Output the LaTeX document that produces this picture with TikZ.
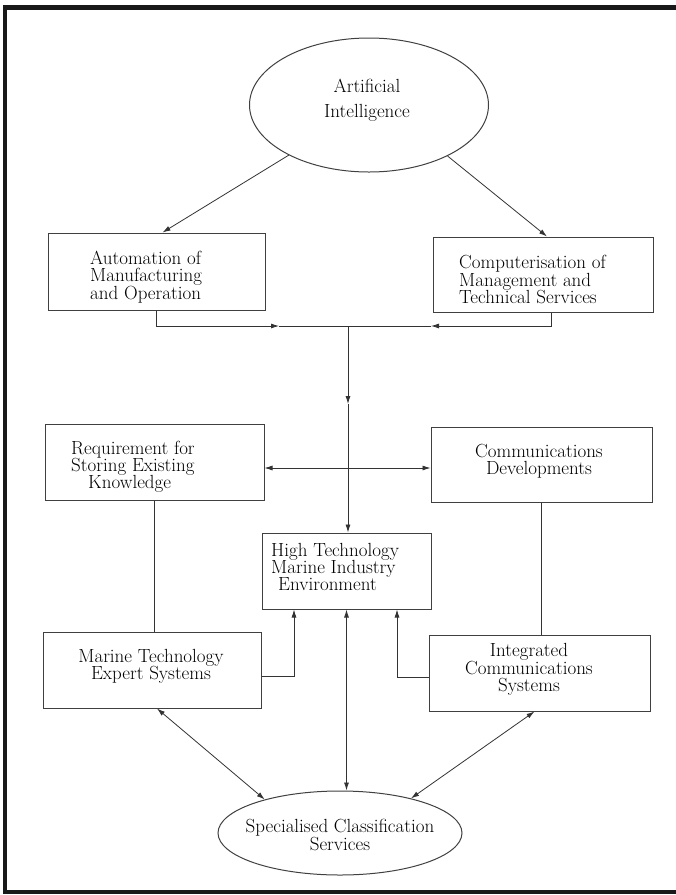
\documentclass[tikz,border=0pt]{standalone}
\usetikzlibrary{arrows.meta,shapes.geometric,calc}
\begin{document}
\begin{tikzpicture}[x=1pt,y=-1pt,
  box/.style={draw=black!75,line width=1pt,rectangle,inner sep=0pt},
  oval/.style={draw=black!75,line width=1pt,ellipse,inner sep=0pt},
  txt/.style={inner sep=0pt,text=black,font=\fontsize{19}{17.2}\selectfont},
  conn/.style={draw=black!80,line width=0.8pt},
  arr/.style={-{Latex[length=8pt,width=5pt]}},
  both/.style={{Latex[length=8pt,width=5pt]}-{Latex[length=8pt,width=5pt]}}
]
\useasboundingbox (0,0) rectangle (676,895);
\fill[white] (0,0) rectangle (676,895);

% outer frame
\draw[line width=4.5pt,black!90] (676,7.5) -- (5,7.5) -- (5,892) -- (676,892);

% shapes
\node[oval,minimum width=239pt,minimum height=134pt] (ai) at (369,105) {};
\node[box,minimum width=217pt,minimum height=77pt] (auto) at (156.5,271.5) {};
\node[box,minimum width=220pt,minimum height=75pt] (comp) at (543,274.5) {};
\node[box,minimum width=219pt,minimum height=76pt] (req) at (154.5,462) {};
\node[box,minimum width=221pt,minimum height=75pt] (comm) at (541.5,464.5) {};
\node[box,minimum width=169pt,minimum height=76pt] (htm) at (346.5,571) {};
\node[box,minimum width=218pt,minimum height=76pt] (mar) at (152,670) {};
\node[box,minimum width=221pt,minimum height=76pt] (integ) at (539.5,673) {};
\node[oval,minimum width=244pt,minimum height=84pt] (spec) at (340,833) {};

% texts
\node[txt,align=center,font=\fontsize{19}{25}\selectfont] (ait) at (367,100.5) {Artificial\\Intelligence};
\node[txt,align=left,anchor=west] (autot) at (90,277) {Automation of\\Manufacturing\\and Operation};
\node[txt,align=left,anchor=west] (compt) at (459,279.5) {Computerisation of\\Management and\\Technical Services};
\node[txt,align=left,anchor=west] (reqt) at (71,466.5) {Requirement for\\Storing Existing\\\hspace*{17pt}Knowledge};
\node[txt,align=center] (commt) at (539,461.5) {Communications\\Developments};
\node[txt,align=left,anchor=west] (htmt) at (271,567) {High Technology\\Marine Industry\\\hspace*{7pt}Environment};
\node[txt,align=center] (mart) at (151,666.5) {Marine Technology\\Expert Systems};
\node[txt,align=center] (integt) at (529,669.5) {Integrated\\Communications\\Systems};
\node[txt,align=center] (spect) at (340,835) {Specialised Classification\\Services};

% connectors
\draw[conn,arr] (ai.212) -- ($(auto.north)+(6,0)$);
\draw[conn,arr] (ai.327) -- ($(comp.north)+(4,0)$);

\coordinate (j1) at (348,326);
\coordinate (m1) at (279,326);
\coordinate (m2) at (431,326);
\draw[conn,arr] (auto.south) |- (m1);
\draw[conn] (m1) -- (j1);
\draw[conn,arr] ($(comp.south)+(8,0)$) |- (m2);
\draw[conn] (m2) -- (j1);

\coordinate (m3) at (348,404);
\coordinate (j2) at (348,468);
\draw[conn,arr] (j1) -- (m3);
\draw[conn] (m3) -- (j2);
\draw[conn,arr] (j2) -- (j2 |- htm.north);
\draw[conn,arr] (j2) -- (j2 -| req.east);
\draw[conn,arr] (j2) -- (j2 -| comm.west);

\draw[conn] (req.south) -- (req.south |- mar.north);
\draw[conn] (comm.south) -- (comm.south |- integ.north);

\coordinate (k1) at (294,676);
\coordinate (k2) at (397,677);
\draw[conn,arr] (k1 -| mar.east) -| (htm.south -| k1);
\draw[conn,arr] (k2 -| integ.west) -| (htm.south -| k2);

\draw[conn,both] (htm.south) -- (htm.south |- spec.north);
\draw[conn,both] ($(mar.south)+(5,0)$) -- (spec.156);
\draw[conn,both] ($(integ.south)+(-5,0)$) -- (spec.26);
\end{tikzpicture}
\end{document}
